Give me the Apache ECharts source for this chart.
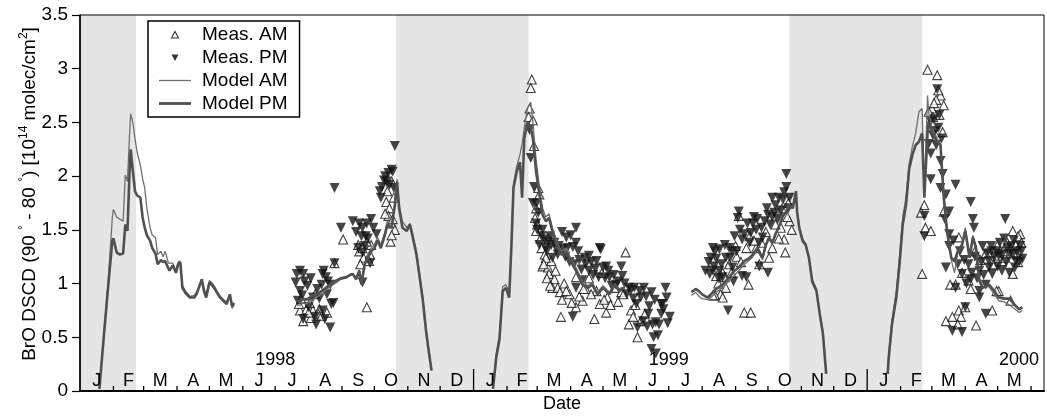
<!DOCTYPE html>
<html>
<head>
<meta charset="utf-8">
<script src="https://cdn.jsdelivr.net/npm/echarts@6/dist/echarts.min.js"></script>
<style>
  html, body { margin: 0; padding: 0; background: #fff; }
  #chart { width: 1047px; height: 418px; }
</style>
</head>
<body>
<div id="chart"></div>
<script>
// All x values are days counted from 1 January 1998.
const FONT = '"Liberation Sans", Arial, Helvetica, sans-serif';
const EPOCH = Date.UTC(1998, 0, 1);
const dayOf = (iso) => (Date.parse(iso + 'T00:00:00Z') - EPOCH) / 86400000;

const axisStartDate = '1998-01-01';
const axisEndDate = '2000-06-13';
const monthLetters = ['J', 'F', 'M', 'A', 'M', 'J', 'J', 'A', 'S', 'O', 'N', 'D'];
const yearNames = ['1998', '1999', '2000'];
const yTicks = [0, 0.5, 1, 1.5, 2, 2.5, 3, 3.5];

// Polar night periods (shaded)
const darkStart = ['1998-01-01', '1998-10-21', '1999-10-21'];
const darkEnd = ['1998-02-22', '1999-02-21', '2000-02-21'];

// ---- Model BrO DSCD, five seasons ----
const modelDays1 = [18,22,26,30,31,34,37,40,42,44,46,47,49,51,53,56,58,60,62,65,67,70,72,75,77,79,82,83,86,89,91,93,95,98,102,106,108,113,115,117,120,123,125,128,130,133,136,139,141,143];
const modelAM1 = [0.02,0.52,1.00,1.62,1.69,1.62,1.60,1.58,2.01,1.95,2.40,2.58,2.50,2.35,2.22,2.10,1.98,1.89,1.70,1.52,1.45,1.43,1.27,1.30,1.25,1.30,1.19,1.18,1.19,1.12,1.20,1.21,0.98,0.93,0.88,0.89,0.92,1.02,0.95,0.90,1.03,1.00,0.97,0.91,0.88,0.85,0.83,0.88,0.77,0.80];
const modelPM1 = [0.02,0.50,0.96,1.40,1.42,1.29,1.27,1.28,1.55,1.49,2.05,2.25,2.05,1.86,1.82,1.80,1.62,1.52,1.45,1.40,1.33,1.28,1.18,1.22,1.20,1.21,1.14,1.12,1.17,1.10,1.18,1.20,0.96,0.91,0.87,0.87,0.90,1.04,0.93,0.87,1.01,0.98,0.95,0.90,0.87,0.84,0.81,0.90,0.79,0.82];

const modelDays2 = [201,204,207,210,213,216,220,224,228,232,238,242,247,250,253,256,259,261,264,267,270,273,276,279,283,285,289,292,294,296,299,303,306,308,312,315,318,321,323,326];
const modelAM2 = [0.80,0.80,0.82,0.81,0.84,0.85,0.88,0.90,0.94,0.97,1.01,1.04,1.05,1.07,1.09,1.05,1.13,1.02,1.20,1.26,1.33,1.36,1.43,1.36,1.49,1.58,1.55,1.76,1.97,1.73,1.58,1.52,1.56,1.48,1.30,1.08,0.86,0.58,0.42,0.20];
const modelPM2 = [0.84,0.83,0.86,0.85,0.87,0.89,0.90,0.93,0.96,0.99,1.03,1.05,1.06,1.08,1.09,1.04,1.12,0.99,1.18,1.24,1.30,1.33,1.40,1.33,1.46,1.55,1.52,1.73,1.95,1.70,1.52,1.49,1.55,1.46,1.27,1.06,0.84,0.55,0.40,0.19];

const modelDays3 = [383,386,389,392,395,398,400,402,405,408,410,412,415,418,420,423,426,429,432,435,438,442,446,451,455,460,466,471,475,480,485,491,496,500,505];
const modelAM3 = [0.03,0.35,0.52,0.97,0.99,0.92,1.36,1.93,2.09,2.20,2.30,2.45,2.63,2.69,2.50,2.15,1.90,1.70,1.62,1.65,1.52,1.40,1.30,1.33,1.24,1.15,1.02,0.98,1.01,0.92,0.98,0.92,1.00,0.95,0.97];
const modelPM3 = [0.02,0.31,0.48,0.93,0.96,0.87,1.33,1.89,2.04,2.13,1.80,2.35,2.50,2.45,2.35,2.04,1.83,1.64,1.58,1.61,1.49,1.36,1.27,1.30,1.21,1.12,0.99,0.96,0.99,0.90,0.96,0.90,0.99,0.93,0.96];

const modelDays4 = [567,571,574,577,582,585,590,596,602,607,611,616,621,624,628,633,636,639,642,645,649,652,655,658,661,664,665,667,670,673,676,679,683,686,689,692];
const modelAM4 = [0.89,0.92,0.88,0.86,0.85,0.87,0.92,0.96,1.03,1.08,1.12,1.18,1.22,1.25,1.31,1.22,1.35,1.41,1.37,1.45,1.54,1.62,1.66,1.72,1.70,1.86,1.68,1.54,1.42,1.37,1.25,1.04,0.95,0.73,0.55,0.17];
const modelPM4 = [0.92,0.95,0.93,0.90,0.87,0.90,0.95,0.99,1.06,1.12,1.15,1.21,1.24,1.27,1.33,1.24,1.36,1.43,1.38,1.46,1.55,1.64,1.67,1.73,1.70,1.86,1.67,1.52,1.40,1.36,1.24,1.02,0.93,0.72,0.53,0.16];

const modelDays5 = [749,750,753,757,760,763,766,769,772,775,778,781,783,786,787,790,795,798,801,804,808,811,814,818,821,825,828,831,834,837,843,848,852,857,862,866,871,874];
const modelAM5 = [0.18,0.34,0.66,0.92,1.25,1.62,1.80,2.12,2.28,2.40,2.60,2.63,1.85,2.75,2.60,2.45,2.35,2.30,1.85,1.52,1.22,1.10,1.28,1.38,1.52,1.26,1.45,1.35,1.05,0.97,0.97,0.90,0.84,0.83,0.80,0.77,0.73,0.75];
const modelPM5 = [0.16,0.31,0.62,0.87,1.18,1.55,1.73,2.07,2.20,2.29,2.32,2.40,1.80,2.40,2.51,2.41,2.32,2.29,1.80,1.49,1.24,1.21,1.30,1.36,1.49,1.24,1.43,1.33,1.03,0.96,0.99,0.93,0.87,0.86,0.86,0.81,0.76,0.78];

// ---- Measured BrO DSCD, morning ----
const measAMDays = [
  244,266,204,210,216,222,229,207,221,203,213,218,236,259,263,258,269,270,266,260,284,287,286,289,292,288,290,285,289,
  205,214,224,212,262,268,283,291,289,
  419,418,417,416,420,421,425,426,423,422,424,423,428,431,429,434,435,440,438,443,445,437,432,446,460,477,506,454,466,482,488,469,479,489,497,502,511,509,517,513,460,449,472,484,
  427,430,433,436,441,447,451,456,463,467,474,486,492,499,504,515,520,524,
  651,658,653,654,650,642,639,630,627,621,618,611,608,602,596,590,620,599,594,589,587,596,616,622,660,656,
  592,598,604,609,613,625,632,636,645,648,657,
  786,795,798,801,794,790,797,800,783,780,784,789,781,801,815,851,865,872,868,807,803,809,815,817,821,831,846,852,824,818,812,855,865,858,869,851,863,850,870,
  787,791,796,792,830,835,840,847,856,860,866,870,873,826,814
];
const measAMValues = [
  1.41,0.78,0.75,0.76,0.75,0.76,0.73,0.65,0.72,0.81,0.82,0.90,1.19,1.30,1.24,1.36,1.27,1.36,1.39,1.18,1.76,1.70,1.63,1.56,1.50,1.39,1.60,1.86,1.95,
  0.86,0.68,0.70,0.73,1.33,1.21,1.65,1.80,1.45,
  2.90,2.82,2.63,2.55,2.52,2.28,1.89,1.83,1.70,1.61,1.55,1.49,1.33,1.27,1.16,1.15,1.09,1.04,0.96,0.96,0.92,1.21,1.24,0.69,0.78,0.67,1.29,0.90,0.84,0.81,0.73,0.95,0.93,0.87,0.96,0.92,0.75,0.62,0.50,0.69,1.06,1.00,1.05,1.10,
  1.42,1.18,1.05,0.98,1.12,0.85,0.93,0.82,0.88,0.95,0.90,0.85,0.80,0.83,0.90,0.80,0.65,0.72,
  1.70,1.58,1.41,1.29,1.52,1.33,1.24,1.18,1.33,1.44,1.33,1.63,1.35,1.18,1.10,1.07,0.99,0.96,0.90,0.89,0.89,0.87,0.73,0.73,1.50,1.62,
  1.00,1.06,1.10,1.25,1.20,1.40,1.38,1.48,1.55,1.42,1.75,
  2.99,2.94,2.75,2.66,2.71,2.63,2.57,2.41,1.73,1.66,1.52,1.49,1.09,1.67,1.43,1.36,1.49,1.46,1.36,0.99,0.65,0.69,0.75,0.69,0.78,0.61,0.75,0.93,1.03,1.10,0.99,1.21,1.09,1.24,1.27,1.26,0.84,0.93,1.44,
  2.60,2.55,2.80,2.68,1.30,1.22,1.28,1.18,1.30,1.38,1.28,1.20,1.38,0.95,0.62
];
// ---- Measured BrO DSCD, afternoon ----
const measPMDays = [
  292,236,242,259,266,270,262,272,261,265,275,258,262,269,262,278,283,286,289,290,284,287,291,201,207,200,204,211,206,202,216,225,228,232,224,229,233,218,227,232,207,225,235,236,
  208,214,220,226,230,204,212,222,219,253,256,264,267,280,282,279,
  417,418,421,420,423,425,423,428,431,434,437,432,442,443,438,460,451,452,460,462,468,472,482,479,485,488,483,472,466,460,457,491,497,502,503,509,514,519,523,530,516,520,528,539,543,539,534,531,536,522,517,530,534,547,540,537,544,447,455,
  424,426,429,433,436,440,444,448,450,454,457,458,463,465,469,474,476,478,481,487,490,493,495,499,505,507,511,513,525,527,533,541,545,526,532,
  655,655,642,648,658,652,645,638,642,635,632,627,633,630,611,610,619,607,614,602,587,593,585,590,599,605,580,587,593,584,596,605,614,618,630,638,601,622,625,
  583,589,595,598,603,609,612,616,621,624,628,637,640,644,647,650,653,657,588,592,606,
  795,789,792,797,794,789,798,789,783,783,798,803,812,806,806,826,828,829,803,806,837,814,818,812,826,824,834,834,840,843,834,809,818,840,821,858,850,855,860,865,868,874,862,851,843,846,855,871,852,
  791,793,796,799,787,800,802,810,816,820,822,827,830,832,836,838,841,845,848,853,857,859,863,866,869,872,845,862,867,873
];
const measPMValues = [
  2.28,1.89,1.52,1.56,1.56,1.60,1.52,1.52,1.44,1.44,1.46,1.33,1.29,1.19,1.01,1.86,2.00,2.03,2.06,2.04,1.95,1.92,1.89,1.09,1.09,1.01,0.93,0.98,0.89,0.84,0.87,1.09,1.06,0.99,0.99,0.90,0.81,0.69,0.67,0.59,0.67,0.75,0.82,1.19,
  1.02,1.05,0.95,1.12,1.02,1.12,0.78,0.86,0.62,1.58,1.48,1.35,1.42,1.90,1.96,1.80,
  2.43,2.17,1.90,1.75,1.74,1.66,1.56,1.44,1.41,1.39,1.36,1.33,1.32,1.27,1.24,1.52,1.43,1.33,1.38,1.30,1.24,1.26,1.33,1.21,1.15,1.16,1.32,1.12,1.03,0.96,0.69,1.06,0.99,1.16,1.07,0.96,0.96,0.93,0.96,0.92,0.81,0.87,0.79,0.81,0.96,0.72,0.64,0.62,0.52,0.65,0.59,0.39,0.35,0.69,0.81,0.62,0.87,1.48,1.45,
  1.50,1.36,1.50,1.30,1.44,1.38,1.35,1.32,1.25,1.20,1.34,1.18,1.22,1.13,1.18,1.20,1.08,1.14,1.06,1.05,1.12,0.98,1.08,1.02,1.00,0.90,0.94,0.86,0.88,0.72,0.85,0.76,0.63,0.60,0.50,
  2.02,1.90,1.80,1.80,1.80,1.78,1.73,1.64,1.62,1.58,1.52,1.50,1.43,1.38,1.67,1.61,1.56,1.44,1.41,1.33,1.33,1.32,1.24,1.23,1.24,1.30,1.12,1.12,1.12,1.09,1.06,1.15,1.07,1.06,1.16,1.10,0.75,1.47,1.62,
  1.20,1.30,1.18,1.36,1.24,1.30,1.50,1.46,1.38,1.56,1.60,1.70,1.55,1.66,1.60,1.68,1.85,1.70,1.16,1.05,1.02,
  2.81,2.51,2.53,2.57,2.29,2.21,2.14,1.97,1.63,1.44,1.89,1.83,1.92,1.67,1.46,1.76,1.60,1.52,1.15,1.35,1.35,1.18,1.09,0.96,1.04,1.18,1.12,0.93,0.99,1.15,0.87,0.56,0.55,0.72,0.78,1.60,1.30,1.27,1.33,1.27,1.21,1.23,1.10,1.16,1.21,1.09,1.12,1.20,1.26,
  2.38,2.42,2.45,2.35,2.30,2.02,1.60,1.40,1.30,1.22,1.00,1.10,1.25,1.05,1.20,1.08,1.28,1.35,1.25,1.38,1.42,1.20,1.35,1.40,1.30,1.35,1.30,1.28,1.15,1.30
];

// ---- build series data ----
const pairs = (xs, ys) => xs.map((x, i) => [x, ys[i]]);
function joinSeasons(seasons) {
  const out = [];
  seasons.forEach(([xs, ys], i) => {
    if (i > 0) out.push([xs[0] - 1, null]);   // break the line between seasons
    xs.forEach((x, k) => out.push([x, ys[k]]));
  });
  return out;
}
const modelAMData = joinSeasons([[modelDays1, modelAM1], [modelDays2, modelAM2], [modelDays3, modelAM3], [modelDays4, modelAM4], [modelDays5, modelAM5]]);
const modelPMData = joinSeasons([[modelDays1, modelPM1], [modelDays2, modelPM2], [modelDays3, modelPM3], [modelDays4, modelPM4], [modelDays5, modelPM5]]);

const xMin = dayOf(axisStartDate);
const xMax = dayOf(axisEndDate);

// month cells: [startDay, endDay, monthIndex]
const months = [];
for (let y = 1998; y <= 2000; y++) {
  for (let m = 0; m < 12; m++) {
    const s = (Date.UTC(y, m, 1) - EPOCH) / 86400000;
    const e = (Date.UTC(y, m + 1, 1) - EPOCH) / 86400000;
    if (e <= xMax) months.push([s, e, m]);
  }
}
const darkPeriods = darkStart.map((d, i) => [dayOf(d), dayOf(darkEnd[i])]);
const yearMarks = yearNames.map((y, i) => [dayOf(y + '-07-01'), i]);

// legend glyphs: small triangles inside a 12x12 box, plain bars for the model lines
const iconUp = 'path://M0,0M12,12M2.5,9.5L6,3L9.5,9.5Z';
const iconDown = 'path://M0,0M12,12M2.5,3L9.5,3L6,9.5Z';
const iconThin = 'path://M0,0L32,0L32,1.3L0,1.3Z';
const iconThick = 'path://M0,0L32,0L32,2.8L0,2.8Z';

const chart = echarts.init(document.getElementById('chart'), null, { renderer: 'canvas' });
chart.setOption({
  animation: false,
  backgroundColor: '#fff',
  textStyle: { fontFamily: FONT },
  grid: { left: 80, right: 3, top: 15, bottom: 24, show: true, z: 5, borderColor: '#000', borderWidth: 1, backgroundColor: 'transparent' },
  legend: {
    orient: 'vertical', left: 148, top: 21, z: 20,
    backgroundColor: '#fff', borderColor: '#000', borderWidth: 1.5, borderRadius: 0,
    padding: [4, 12, 4, 11], itemGap: 4, itemWidth: 32, itemHeight: 12,
    symbolRotate: 0,
    textStyle: { fontSize: 19, color: '#000', fontFamily: FONT, padding: [0, 0, 0, 6] },
    data: [
      { name: 'Meas. AM', icon: iconUp, itemStyle: { color: '#fff', borderColor: '#000', borderWidth: 1.1 } },
      { name: 'Meas. PM', icon: iconDown, itemStyle: { color: '#000' } },
      { name: 'Model AM', icon: iconThin, itemStyle: { color: '#707070', borderWidth: 0 } },
      { name: 'Model PM', icon: iconThick, itemStyle: { color: '#505050', borderWidth: 0 } }
    ]
  },
  xAxis: {
    type: 'value', min: xMin, max: xMax, z: 6,
    name: 'Date', nameLocation: 'middle', nameGap: 4,
    nameTextStyle: { fontSize: 18, color: '#000', fontFamily: FONT },
    axisLine: { lineStyle: { color: '#000', width: 2 } },
    axisTick: { show: false }, axisLabel: { show: false }, splitLine: { show: false }
  },
  yAxis: {
    type: 'value', min: yTicks[0], max: yTicks[yTicks.length - 1], interval: yTicks[1] - yTicks[0], z: 6,
    name: 'BrO DSCD (90 {sup|°} - 80 {sup|°}) [10{sup|14} molec/cm{sup|2}]',
    nameLocation: 'middle', nameRotate: 90, nameGap: 38, nameMoveOverlap: false,
    nameTextStyle: {
      fontSize: 19, color: '#000', fontFamily: FONT, lineHeight: 24, padding: [0, 0, 0, 18],
      rich: { sup: { fontSize: 12, lineHeight: 12, verticalAlign: 'top', color: '#000', fontFamily: FONT } }
    },
    axisLine: { show: true, lineStyle: { color: '#000', width: 1.5 } },
    axisTick: { show: true, inside: false, length: 8, lineStyle: { color: '#000', width: 1.2 } },
    axisLabel: { fontSize: 19, color: '#000', fontFamily: FONT, margin: 12 },
    splitLine: { show: false }
  },
  series: [
    {
      name: 'polar night', type: 'custom', silent: true, z: 1,
      encode: { x: [0, 1] },
      data: darkPeriods,
      renderItem(params, api) {
        const p0 = api.coord([api.value(0), yTicks[yTicks.length - 1]]);
        const p1 = api.coord([api.value(1), 0]);
        return { type: 'rect', shape: { x: p0[0], y: p0[1], width: p1[0] - p0[0], height: p1[1] - p0[1] }, style: { fill: '#e5e5e5' } };
      }
    },
    {
      name: 'months', type: 'custom', silent: true, z: 7,
      encode: { x: [0, 1] },
      data: months,
      renderItem(params, api) {
        const s = api.value(0), e = api.value(1), m = api.value(2);
        const mid = api.coord([(s + e) / 2, 0]);
        const end = api.coord([e, 0]);
        const len = m === 11 ? 22 : 5;
        return {
          type: 'group',
          children: [
            { type: 'text', style: { text: monthLetters[m], x: mid[0], y: mid[1] - 9.5, align: 'center', verticalAlign: 'middle', fontSize: 18, fontFamily: FONT, fill: '#000' } },
            { type: 'line', shape: { x1: end[0], y1: end[1], x2: end[0], y2: end[1] - len }, style: { stroke: '#000', lineWidth: 1.3 } }
          ]
        };
      }
    },
    {
      name: 'years', type: 'custom', silent: true, z: 7,
      encode: { x: 0 },
      data: yearMarks,
      renderItem(params, api) {
        const i = api.value(1);
        const last = i === yearNames.length - 1;
        const p = api.coord([last ? xMax : api.value(0), 0]);
        return {
          type: 'text',
          style: { text: yearNames[i], x: last ? p[0] - 5 : p[0], y: p[1] - 31, align: last ? 'right' : 'center', verticalAlign: 'middle', fontSize: 18, fontFamily: FONT, fill: '#000' }
        };
      }
    },
    {
      name: 'Meas. AM', type: 'scatter', z: 3,
      symbol: 'triangle', symbolSize: 9,
      itemStyle: { color: '#fff', borderColor: '#111', borderWidth: 1.1 },
      data: pairs(measAMDays, measAMValues)
    },
    {
      name: 'Meas. PM', type: 'scatter', z: 3,
      symbol: 'triangle', symbolRotate: 180, symbolSize: 10,
      itemStyle: { color: '#151515' },
      data: pairs(measPMDays, measPMValues)
    },
    {
      name: 'Model AM', type: 'line', z: 4, showSymbol: false, symbol: 'none',
      lineStyle: { color: '#707070', width: 1.3 }, itemStyle: { color: '#707070' },
      data: modelAMData
    },
    {
      name: 'Model PM', type: 'line', z: 4, showSymbol: false, symbol: 'none',
      lineStyle: { color: '#505050', width: 2.6 }, itemStyle: { color: '#505050' },
      data: modelPMData
    }
  ]
});
</script>
</body>
</html>
